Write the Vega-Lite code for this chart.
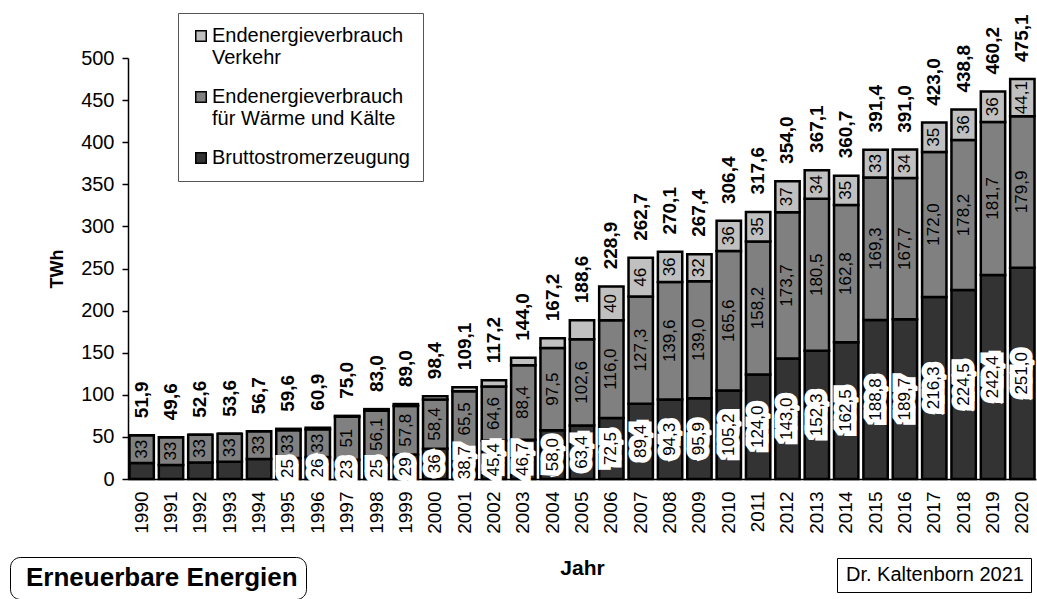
{
  "$schema": "https://vega.github.io/schema/vega-lite/v6.json",
  "width": 908,
  "height": 421,
  "autosize": {"type": "none"},
  "padding": {"left": 128, "top": 58, "right": 1, "bottom": 120},
  "background": "white",
  "config": {
    "font": "Liberation Sans",
    "view": {"stroke": null},
    "locale": {"number": {"decimal": ",", "thousands": ".", "grouping": [3], "currency": ["", " €"]}},
    "axis": {"grid": false, "domainColor": "black", "domainWidth": 1.5, "tickColor": "black", "tickWidth": 1.5, "labelColor": "black", "titleColor": "black", "labelFont": "Liberation Sans", "titleFont": "Liberation Sans"},
    "legend": {"labelFont": "Liberation Sans", "titleFont": "Liberation Sans", "labelColor": "black"}
  },
  "datasets": {
    "kategorien": [
      {"art": "Bruttostromerzeugung", "nr": 1},
      {"art": "Endenergieverbrauch für Wärme und Kälte", "nr": 2},
      {"art": "Endenergieverbrauch Verkehr", "nr": 3}
    ],
    "summen": [
      {"jahr": "1990", "summe": 51.9}, {"jahr": "1991", "summe": 49.6}, {"jahr": "1992", "summe": 52.6},
      {"jahr": "1993", "summe": 53.6}, {"jahr": "1994", "summe": 56.7}, {"jahr": "1995", "summe": 59.6},
      {"jahr": "1996", "summe": 60.9}, {"jahr": "1997", "summe": 75.0}, {"jahr": "1998", "summe": 83.0},
      {"jahr": "1999", "summe": 89.0}, {"jahr": "2000", "summe": 98.4}, {"jahr": "2001", "summe": 109.1},
      {"jahr": "2002", "summe": 117.2}, {"jahr": "2003", "summe": 144.0}, {"jahr": "2004", "summe": 167.2},
      {"jahr": "2005", "summe": 188.6}, {"jahr": "2006", "summe": 228.9}, {"jahr": "2007", "summe": 262.7},
      {"jahr": "2008", "summe": 270.1}, {"jahr": "2009", "summe": 267.4}, {"jahr": "2010", "summe": 306.4},
      {"jahr": "2011", "summe": 317.6}, {"jahr": "2012", "summe": 354.0}, {"jahr": "2013", "summe": 367.1},
      {"jahr": "2014", "summe": 360.7}, {"jahr": "2015", "summe": 391.4}, {"jahr": "2016", "summe": 391.0},
      {"jahr": "2017", "summe": 423.0}, {"jahr": "2018", "summe": 438.8}, {"jahr": "2019", "summe": 460.2},
      {"jahr": "2020", "summe": 475.1}
    ],
    "hinweise": [
      {"titel": "Erneuerbare Energien", "quelle": "Dr. Kaltenborn 2021"}
    ]
  },
  "data": {"values": [
    {"jahr": "1990", "art": "Bruttostromerzeugung", "twh": 18.9, "wert": ""},
    {"jahr": "1990", "art": "Endenergieverbrauch für Wärme und Kälte", "twh": 33, "wert": "33"},
    {"jahr": "1990", "art": "Endenergieverbrauch Verkehr", "twh": 0, "wert": ""},
    {"jahr": "1991", "art": "Bruttostromerzeugung", "twh": 16.6, "wert": ""},
    {"jahr": "1991", "art": "Endenergieverbrauch für Wärme und Kälte", "twh": 33, "wert": "33"},
    {"jahr": "1991", "art": "Endenergieverbrauch Verkehr", "twh": 0, "wert": ""},
    {"jahr": "1992", "art": "Bruttostromerzeugung", "twh": 19.6, "wert": ""},
    {"jahr": "1992", "art": "Endenergieverbrauch für Wärme und Kälte", "twh": 33, "wert": "33"},
    {"jahr": "1992", "art": "Endenergieverbrauch Verkehr", "twh": 0, "wert": ""},
    {"jahr": "1993", "art": "Bruttostromerzeugung", "twh": 20.6, "wert": ""},
    {"jahr": "1993", "art": "Endenergieverbrauch für Wärme und Kälte", "twh": 33, "wert": "33"},
    {"jahr": "1993", "art": "Endenergieverbrauch Verkehr", "twh": 0, "wert": ""},
    {"jahr": "1994", "art": "Bruttostromerzeugung", "twh": 23.7, "wert": ""},
    {"jahr": "1994", "art": "Endenergieverbrauch für Wärme und Kälte", "twh": 33, "wert": "33"},
    {"jahr": "1994", "art": "Endenergieverbrauch Verkehr", "twh": 0, "wert": ""},
    {"jahr": "1995", "art": "Bruttostromerzeugung", "twh": 25, "wert": "25"},
    {"jahr": "1995", "art": "Endenergieverbrauch für Wärme und Kälte", "twh": 33, "wert": "33"},
    {"jahr": "1995", "art": "Endenergieverbrauch Verkehr", "twh": 1.6, "wert": ""},
    {"jahr": "1996", "art": "Bruttostromerzeugung", "twh": 26, "wert": "26"},
    {"jahr": "1996", "art": "Endenergieverbrauch für Wärme und Kälte", "twh": 33, "wert": "33"},
    {"jahr": "1996", "art": "Endenergieverbrauch Verkehr", "twh": 1.9, "wert": ""},
    {"jahr": "1997", "art": "Bruttostromerzeugung", "twh": 23, "wert": "23"},
    {"jahr": "1997", "art": "Endenergieverbrauch für Wärme und Kälte", "twh": 51, "wert": "51"},
    {"jahr": "1997", "art": "Endenergieverbrauch Verkehr", "twh": 1.0, "wert": ""},
    {"jahr": "1998", "art": "Bruttostromerzeugung", "twh": 25, "wert": "25"},
    {"jahr": "1998", "art": "Endenergieverbrauch für Wärme und Kälte", "twh": 56.1, "wert": "56,1"},
    {"jahr": "1998", "art": "Endenergieverbrauch Verkehr", "twh": 1.9, "wert": ""},
    {"jahr": "1999", "art": "Bruttostromerzeugung", "twh": 29, "wert": "29"},
    {"jahr": "1999", "art": "Endenergieverbrauch für Wärme und Kälte", "twh": 57.8, "wert": "57,8"},
    {"jahr": "1999", "art": "Endenergieverbrauch Verkehr", "twh": 2.2, "wert": ""},
    {"jahr": "2000", "art": "Bruttostromerzeugung", "twh": 36, "wert": "36"},
    {"jahr": "2000", "art": "Endenergieverbrauch für Wärme und Kälte", "twh": 58.4, "wert": "58,4"},
    {"jahr": "2000", "art": "Endenergieverbrauch Verkehr", "twh": 4.0, "wert": ""},
    {"jahr": "2001", "art": "Bruttostromerzeugung", "twh": 38.7, "wert": "38,7"},
    {"jahr": "2001", "art": "Endenergieverbrauch für Wärme und Kälte", "twh": 65.5, "wert": "65,5"},
    {"jahr": "2001", "art": "Endenergieverbrauch Verkehr", "twh": 4.9, "wert": ""},
    {"jahr": "2002", "art": "Bruttostromerzeugung", "twh": 45.4, "wert": "45,4"},
    {"jahr": "2002", "art": "Endenergieverbrauch für Wärme und Kälte", "twh": 64.6, "wert": "64,6"},
    {"jahr": "2002", "art": "Endenergieverbrauch Verkehr", "twh": 7.2, "wert": ""},
    {"jahr": "2003", "art": "Bruttostromerzeugung", "twh": 46.7, "wert": "46,7"},
    {"jahr": "2003", "art": "Endenergieverbrauch für Wärme und Kälte", "twh": 88.4, "wert": "88,4"},
    {"jahr": "2003", "art": "Endenergieverbrauch Verkehr", "twh": 8.9, "wert": ""},
    {"jahr": "2004", "art": "Bruttostromerzeugung", "twh": 58.0, "wert": "58,0"},
    {"jahr": "2004", "art": "Endenergieverbrauch für Wärme und Kälte", "twh": 97.5, "wert": "97,5"},
    {"jahr": "2004", "art": "Endenergieverbrauch Verkehr", "twh": 11.7, "wert": ""},
    {"jahr": "2005", "art": "Bruttostromerzeugung", "twh": 63.4, "wert": "63,4"},
    {"jahr": "2005", "art": "Endenergieverbrauch für Wärme und Kälte", "twh": 102.6, "wert": "102,6"},
    {"jahr": "2005", "art": "Endenergieverbrauch Verkehr", "twh": 22.6, "wert": ""},
    {"jahr": "2006", "art": "Bruttostromerzeugung", "twh": 72.5, "wert": "72,5"},
    {"jahr": "2006", "art": "Endenergieverbrauch für Wärme und Kälte", "twh": 116.0, "wert": "116,0"},
    {"jahr": "2006", "art": "Endenergieverbrauch Verkehr", "twh": 40, "wert": "40"},
    {"jahr": "2007", "art": "Bruttostromerzeugung", "twh": 89.4, "wert": "89,4"},
    {"jahr": "2007", "art": "Endenergieverbrauch für Wärme und Kälte", "twh": 127.3, "wert": "127,3"},
    {"jahr": "2007", "art": "Endenergieverbrauch Verkehr", "twh": 46, "wert": "46"},
    {"jahr": "2008", "art": "Bruttostromerzeugung", "twh": 94.3, "wert": "94,3"},
    {"jahr": "2008", "art": "Endenergieverbrauch für Wärme und Kälte", "twh": 139.6, "wert": "139,6"},
    {"jahr": "2008", "art": "Endenergieverbrauch Verkehr", "twh": 36, "wert": "36"},
    {"jahr": "2009", "art": "Bruttostromerzeugung", "twh": 95.9, "wert": "95,9"},
    {"jahr": "2009", "art": "Endenergieverbrauch für Wärme und Kälte", "twh": 139.0, "wert": "139,0"},
    {"jahr": "2009", "art": "Endenergieverbrauch Verkehr", "twh": 32, "wert": "32"},
    {"jahr": "2010", "art": "Bruttostromerzeugung", "twh": 105.2, "wert": "105,2"},
    {"jahr": "2010", "art": "Endenergieverbrauch für Wärme und Kälte", "twh": 165.6, "wert": "165,6"},
    {"jahr": "2010", "art": "Endenergieverbrauch Verkehr", "twh": 36, "wert": "36"},
    {"jahr": "2011", "art": "Bruttostromerzeugung", "twh": 124.0, "wert": "124,0"},
    {"jahr": "2011", "art": "Endenergieverbrauch für Wärme und Kälte", "twh": 158.2, "wert": "158,2"},
    {"jahr": "2011", "art": "Endenergieverbrauch Verkehr", "twh": 35, "wert": "35"},
    {"jahr": "2012", "art": "Bruttostromerzeugung", "twh": 143.0, "wert": "143,0"},
    {"jahr": "2012", "art": "Endenergieverbrauch für Wärme und Kälte", "twh": 173.7, "wert": "173,7"},
    {"jahr": "2012", "art": "Endenergieverbrauch Verkehr", "twh": 37, "wert": "37"},
    {"jahr": "2013", "art": "Bruttostromerzeugung", "twh": 152.3, "wert": "152,3"},
    {"jahr": "2013", "art": "Endenergieverbrauch für Wärme und Kälte", "twh": 180.5, "wert": "180,5"},
    {"jahr": "2013", "art": "Endenergieverbrauch Verkehr", "twh": 34, "wert": "34"},
    {"jahr": "2014", "art": "Bruttostromerzeugung", "twh": 162.5, "wert": "162,5"},
    {"jahr": "2014", "art": "Endenergieverbrauch für Wärme und Kälte", "twh": 162.8, "wert": "162,8"},
    {"jahr": "2014", "art": "Endenergieverbrauch Verkehr", "twh": 35, "wert": "35"},
    {"jahr": "2015", "art": "Bruttostromerzeugung", "twh": 188.8, "wert": "188,8"},
    {"jahr": "2015", "art": "Endenergieverbrauch für Wärme und Kälte", "twh": 169.3, "wert": "169,3"},
    {"jahr": "2015", "art": "Endenergieverbrauch Verkehr", "twh": 33, "wert": "33"},
    {"jahr": "2016", "art": "Bruttostromerzeugung", "twh": 189.7, "wert": "189,7"},
    {"jahr": "2016", "art": "Endenergieverbrauch für Wärme und Kälte", "twh": 167.7, "wert": "167,7"},
    {"jahr": "2016", "art": "Endenergieverbrauch Verkehr", "twh": 34, "wert": "34"},
    {"jahr": "2017", "art": "Bruttostromerzeugung", "twh": 216.3, "wert": "216,3"},
    {"jahr": "2017", "art": "Endenergieverbrauch für Wärme und Kälte", "twh": 172.0, "wert": "172,0"},
    {"jahr": "2017", "art": "Endenergieverbrauch Verkehr", "twh": 35, "wert": "35"},
    {"jahr": "2018", "art": "Bruttostromerzeugung", "twh": 224.5, "wert": "224,5"},
    {"jahr": "2018", "art": "Endenergieverbrauch für Wärme und Kälte", "twh": 178.2, "wert": "178,2"},
    {"jahr": "2018", "art": "Endenergieverbrauch Verkehr", "twh": 36, "wert": "36"},
    {"jahr": "2019", "art": "Bruttostromerzeugung", "twh": 242.4, "wert": "242,4"},
    {"jahr": "2019", "art": "Endenergieverbrauch für Wärme und Kälte", "twh": 181.7, "wert": "181,7"},
    {"jahr": "2019", "art": "Endenergieverbrauch Verkehr", "twh": 36, "wert": "36"},
    {"jahr": "2020", "art": "Bruttostromerzeugung", "twh": 251.0, "wert": "251,0"},
    {"jahr": "2020", "art": "Endenergieverbrauch für Wärme und Kälte", "twh": 179.9, "wert": "179,9"},
    {"jahr": "2020", "art": "Endenergieverbrauch Verkehr", "twh": 44.1, "wert": "44,1"}
  ]},
  "layer": [
    {
      "transform": [{"lookup": "art", "from": {"data": {"name": "kategorien"}, "key": "art", "fields": ["nr"]}}],
      "mark": {"type": "bar", "stroke": "black", "strokeWidth": 2.5},
      "encoding": {
        "x": {"field": "jahr", "type": "ordinal", "title": "Jahr",
              "scale": {"paddingInner": 0.17, "paddingOuter": 0.05},
              "axis": {"labelAngle": -90, "ticks": false, "labelFontSize": 19, "labelPadding": 12,
                       "titleFontSize": 21, "titleFontWeight": "bold", "titlePadding": 24}},
        "y": {"field": "twh", "type": "quantitative", "stack": "zero", "title": "TWh",
              "scale": {"domain": [0, 500], "nice": false},
              "axis": {"values": [0, 50, 100, 150, 200, 250, 300, 350, 400, 450, 500], "tickSize": 6,
                       "labelFontSize": 20, "labelPadding": 8, "titleFontSize": 18, "titleFontWeight": "bold", "titlePadding": 14}},
        "color": {"field": "art", "type": "nominal",
                  "scale": {"domain": ["Endenergieverbrauch Verkehr", "Endenergieverbrauch für Wärme und Kälte", "Bruttostromerzeugung"],
                            "range": ["#c0c0c0", "#808080", "#333333"]},
                  "legend": {"title": null, "orient": "none", "legendX": 50, "legendY": -45,
                             "symbolType": "square", "symbolSize": 110, "symbolStrokeColor": "black", "symbolStrokeWidth": 1.5,
                             "labelFontSize": 20, "labelLimit": 0, "labelOffset": 1,
                             "labelExpr": "datum.label == 'Bruttostromerzeugung' ? datum.label : ['Endenergieverbrauch', substring(datum.label, 20)]",
                             "strokeColor": "#555555", "fillColor": "white", "padding": 13, "rowPadding": 19}},
        "order": {"field": "nr", "type": "quantitative"}
      }
    },
    {
      "transform": [{"filter": "datum.art == 'Bruttostromerzeugung' && datum.wert != ''"}],
      "mark": {"type": "text", "angle": 270, "align": "center", "baseline": "middle", "fontSize": 17,
               "fill": "white", "stroke": "white", "strokeWidth": 11, "strokeJoin": "miter", "strokeMiterLimit": 2, "strokeCap": "square"},
      "encoding": {
        "x": {"field": "jahr", "type": "ordinal", "title": "Jahr"},
        "y": {"field": "twh", "type": "quantitative", "stack": "zero", "bandPosition": 0.5, "title": "TWh"},
        "text": {"field": "wert"}
      }
    },
    {
      "transform": [{"lookup": "art", "from": {"data": {"name": "kategorien"}, "key": "art", "fields": ["nr"]}}],
      "mark": {"type": "text", "angle": 270, "align": "center", "baseline": "middle", "fontSize": 17, "color": "black"},
      "encoding": {
        "x": {"field": "jahr", "type": "ordinal", "title": "Jahr"},
        "y": {"field": "twh", "type": "quantitative", "stack": "zero", "bandPosition": 0.5, "title": "TWh"},
        "text": {"field": "wert"},
        "order": {"field": "nr", "type": "quantitative"}
      }
    },
    {
      "data": {"name": "summen"},
      "mark": {"type": "text", "angle": 270, "align": "left", "baseline": "middle", "dx": 17, "fontSize": 19, "fontWeight": "bold", "color": "black"},
      "encoding": {
        "x": {"field": "jahr", "type": "ordinal", "title": "Jahr"},
        "y": {"field": "summe", "type": "quantitative", "title": "TWh"},
        "text": {"field": "summe", "type": "quantitative", "format": ".1f"}
      }
    },
    {
      "data": {"name": "hinweise"},
      "mark": {"type": "point", "opacity": 0},
      "encoding": {
        "shape": {"field": "titel", "type": "nominal",
                  "legend": {"title": null, "orient": "none", "legendX": -118, "legendY": 499,
                             "symbolSize": 0, "symbolOpacity": 0, "symbolStrokeWidth": 0, "labelOffset": -18,
                             "labelFontSize": 26, "labelFontWeight": "bold", "labelLimit": 0,
                             "strokeColor": "black", "cornerRadius": 10, "fillColor": "white", "padding": 8}},
        "strokeDash": {"field": "quelle", "type": "nominal",
                  "legend": {"title": null, "orient": "none", "legendX": 709, "legendY": 500,
                             "symbolSize": 0, "symbolOpacity": 0, "symbolStrokeWidth": 0, "labelOffset": -18,
                             "labelFontSize": 20, "labelLimit": 0,
                             "strokeColor": "black", "fillColor": "white", "padding": 7}}
      }
    }
  ]
}
